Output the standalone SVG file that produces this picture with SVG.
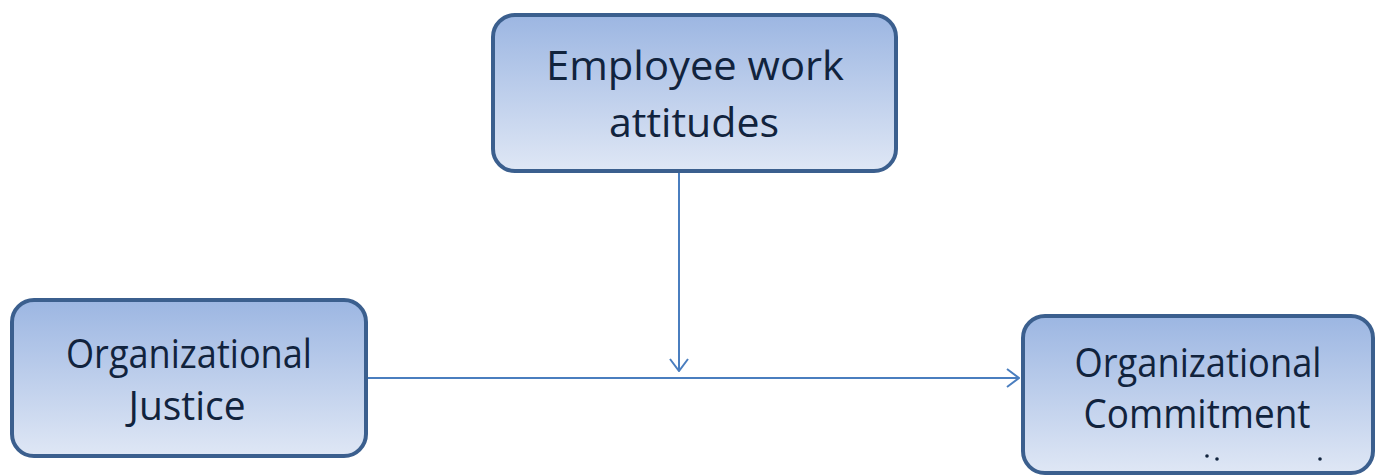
<svg xmlns="http://www.w3.org/2000/svg" width="1378" height="475" viewBox="0 0 1378 475">
  <defs>
    <linearGradient id="g" x1="0" y1="0" x2="0" y2="1">
      <stop offset="0" stop-color="#9cb6e2"/>
      <stop offset="1" stop-color="#dfe7f5"/>
    </linearGradient>
    <marker id="arr" viewBox="0 0 14 20" refX="13" refY="10" markerWidth="14" markerHeight="20" markerUnits="userSpaceOnUse" orient="auto">
      <path d="M1,1 L13,10 L1,19" fill="none" stroke="#4a7ebf" stroke-width="2"/>
    </marker>
    <style>
      .box { fill: url(#g); stroke: #3b5f8e; stroke-width: 4; }
      .lbl { font-family: "Open Sans", "Noto Sans", sans-serif; font-size: 40px; fill: #11233d; text-anchor: middle; }
      .con { stroke: #4a7ebf; stroke-width: 2; fill: none; }
    </style>
  </defs>
  <g id="connectors">
    <path class="con" d="M679,172 L679,371" marker-end="url(#arr)"/>
    <path class="con" d="M368,378 L1019,378" marker-end="url(#arr)"/>
  </g>
  <g id="node-employee">
    <rect class="box" x="493" y="15" width="403" height="156" rx="22"/>
    <text class="lbl" x="695" y="80" textLength="298" lengthAdjust="spacingAndGlyphs">Employee work</text>
    <text class="lbl" x="694" y="137" textLength="170" lengthAdjust="spacingAndGlyphs">attitudes</text>
  </g>
  <g id="node-justice">
    <rect class="box" x="12" y="300" width="354" height="156" rx="22"/>
    <text class="lbl" x="189" y="368" textLength="246" lengthAdjust="spacingAndGlyphs">Organizational</text>
    <text class="lbl" x="187" y="420" textLength="117" lengthAdjust="spacingAndGlyphs">Justice</text>
  </g>
  <g id="node-commitment">
    <rect class="box" x="1023" y="316" width="350" height="157" rx="22"/>
    <text class="lbl" x="1198" y="377" textLength="247" lengthAdjust="spacingAndGlyphs">Organizational</text>
    <text class="lbl" x="1197" y="428" textLength="227" lengthAdjust="spacingAndGlyphs">Commitment</text>
    <circle cx="1207" cy="456" r="1.8" fill="#11233d"/>
    <circle cx="1217" cy="459" r="1.8" fill="#11233d"/>
    <circle cx="1320" cy="459" r="1.8" fill="#11233d"/>
  </g>
</svg>
